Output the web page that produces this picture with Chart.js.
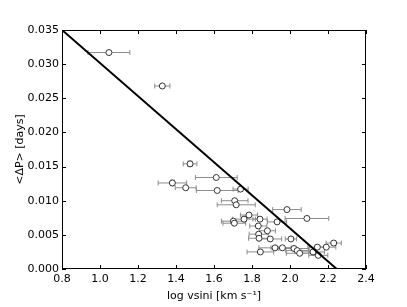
<!DOCTYPE html>
<html>
<head>
<meta charset="utf-8">
<script src="https://cdn.jsdelivr.net/npm/chart.js@4"></script>
<style>
  html, body { margin: 0; padding: 0; background: #fff; }
  #wrap { width: 407px; height: 307px; }
</style>
</head>
<body>
<div id="wrap"><canvas id="c" width="407" height="307"></canvas></div>
<script>
// log vsini, <ΔP>, 水平誤差
const logVsini = [1.047, 1.328, 1.474, 1.612, 1.381, 1.451, 1.617, 1.740, 1.709, 1.717,
  1.984, 2.089, 1.784, 1.758, 1.842, 1.702, 1.707, 1.932, 1.833, 1.881,
  1.835, 1.837, 1.896, 2.005, 2.230, 2.191, 1.921, 1.960, 2.021, 2.038,
  2.144, 2.121, 2.051, 1.844, 2.149];
const deltaP = [0.0317, 0.0268, 0.0154, 0.0134, 0.0126, 0.0119, 0.0115, 0.0117, 0.0100, 0.0094,
  0.0087, 0.0074, 0.0079, 0.0073, 0.0073, 0.0070, 0.0067, 0.0069, 0.0063, 0.0056,
  0.0051, 0.0045, 0.0044, 0.0044, 0.0038, 0.0032, 0.0031, 0.0031, 0.0030, 0.0027,
  0.0032, 0.0025, 0.0023, 0.0025, 0.0020];
const xErr = [0.11, 0.04, 0.036, 0.11, 0.075, 0.055, 0.11, 0.04, 0.07, 0.1,
  0.075, 0.115, 0.045, 0.06, 0.037, 0.063, 0.06, 0.05, 0.045, 0.042,
  0.05, 0.055, 0.06, 0.03, 0.04, 0.05, 0.085, 0.06, 0.08, 0.06,
  0.05, 0.06, 0.07, 0.07, 0.05];
const yErr = [0, 0, 0.0004, 0, 0.0004, 0, 0, 0, 0, 0,
  0, 0, 0, 0, 0, 0, 0, 0, 0, 0,
  0, 0, 0, 0, 0, 0, 0, 0, 0, 0,
  0, 0, 0, 0, 0];
// 擬合直線的兩端
const fitX = [0.8, 2.246];
const fitY = [0.035, 0.0];

const xTicks = [0.8, 1.0, 1.2, 1.4, 1.6, 1.8, 2.0, 2.2, 2.4];
const yTicks = [0, 0.005, 0.010, 0.015, 0.020, 0.025, 0.030, 0.035];

const FONT = "'DejaVu Sans', sans-serif";

// 誤差棒：畫在點的下面
const errorBars = {
  id: "errorBars",
  beforeDatasetDraw(chart, args) {
    if (args.index !== 1) return;
    const { ctx, scales: { x, y } } = chart;
    ctx.save();
    ctx.strokeStyle = "#8c8c8c";
    ctx.lineWidth = 1;
    logVsini.forEach((v, i) => {
      const py = y.getPixelForValue(deltaP[i]);
      const x0 = x.getPixelForValue(v - xErr[i]);
      const x1 = x.getPixelForValue(v + xErr[i]);
      ctx.beginPath();
      ctx.moveTo(x0, py); ctx.lineTo(x1, py);
      ctx.moveTo(x0, py - 2.5); ctx.lineTo(x0, py + 2.5);
      ctx.moveTo(x1, py - 2.5); ctx.lineTo(x1, py + 2.5);
      if (yErr[i] > 0) {
        const px = x.getPixelForValue(v);
        const y0 = y.getPixelForValue(deltaP[i] - yErr[i]);
        const y1 = y.getPixelForValue(deltaP[i] + yErr[i]);
        ctx.moveTo(px, y0); ctx.lineTo(px, y1);
        ctx.moveTo(px - 2.5, y0); ctx.lineTo(px + 2.5, y0);
        ctx.moveTo(px - 2.5, y1); ctx.lineTo(px + 2.5, y1);
      }
      ctx.stroke();
    });
    ctx.restore();
  },
};

// matplotlib 風格的外框與朝內刻度
const frame = {
  id: "frame",
  afterDraw(chart) {
    const { ctx, chartArea: a, scales: { x, y } } = chart;
    ctx.save();
    ctx.strokeStyle = "#000";
    ctx.lineWidth = 1;
    ctx.strokeRect(a.left + 0.5, a.top + 0.5, a.right - a.left - 1, a.bottom - a.top - 1);
    ctx.beginPath();
    xTicks.forEach((t) => {
      const px = Math.round(x.getPixelForValue(t)) + 0.5;
      ctx.moveTo(px, a.bottom); ctx.lineTo(px, a.bottom - 4);
      ctx.moveTo(px, a.top); ctx.lineTo(px, a.top + 4);
    });
    yTicks.forEach((t) => {
      const py = Math.round(y.getPixelForValue(t)) + 0.5;
      ctx.moveTo(a.left, py); ctx.lineTo(a.left + 4, py);
      ctx.moveTo(a.right, py); ctx.lineTo(a.right - 4, py);
    });
    ctx.stroke();
    ctx.restore();
  },
};

new Chart(document.getElementById("c").getContext("2d"), {
  data: {
    datasets: [
      {
        type: "line",
        data: fitX.map((v, i) => ({ x: v, y: fitY[i] })),
        borderColor: "#000",
        borderWidth: 2,
        pointRadius: 0,
        fill: false,
        order: 0,
      },
      {
        type: "scatter",
        data: logVsini.map((v, i) => ({ x: v, y: deltaP[i] })),
        pointRadius: 3,
        pointBorderWidth: 1,
        pointBorderColor: "#333",
        pointBackgroundColor: "#fff",
        order: 1,
      },
    ],
  },
  options: {
    responsive: false,
    animation: false,
    layout: { padding: { top: 30, right: 41, left: 0, bottom: 0 } },
    plugins: { legend: { display: false }, tooltip: { enabled: false } },
    scales: {
      x: {
        type: "linear",
        min: 0.8,
        max: 2.4,
        afterBuildTicks: (s) => { s.ticks = xTicks.map((v) => ({ value: v })); },
        afterFit: (s) => { s.height = 38; },
        grid: { display: false, drawTicks: false },
        border: { display: false },
        ticks: {
          color: "#000",
          padding: 4,
          font: { family: FONT, size: 11 },
          callback: (v) => v.toFixed(1),
        },
        title: {
          display: true,
          text: "log vsini [km s\u207B\u00B9]",
          color: "#000",
          font: { family: FONT, size: 11 },
          padding: { top: 0, bottom: 4 },
        },
      },
      y: {
        type: "linear",
        min: 0,
        max: 0.035,
        afterBuildTicks: (s) => { s.ticks = yTicks.map((v) => ({ value: v })); },
        afterFit: (s) => { s.width = 62; },
        grid: { display: false, drawTicks: false },
        border: { display: false },
        ticks: {
          color: "#000",
          padding: 3,
          font: { family: FONT, size: 11 },
          callback: (v) => v.toFixed(3),
        },
        title: {
          display: true,
          text: "<\u0394P> [days]",
          color: "#000",
          font: { family: FONT, size: 11 },
          padding: { top: 14, bottom: 0 },
        },
      },
    },
  },
  plugins: [errorBars, frame],
});
</script>
</body>
</html>
